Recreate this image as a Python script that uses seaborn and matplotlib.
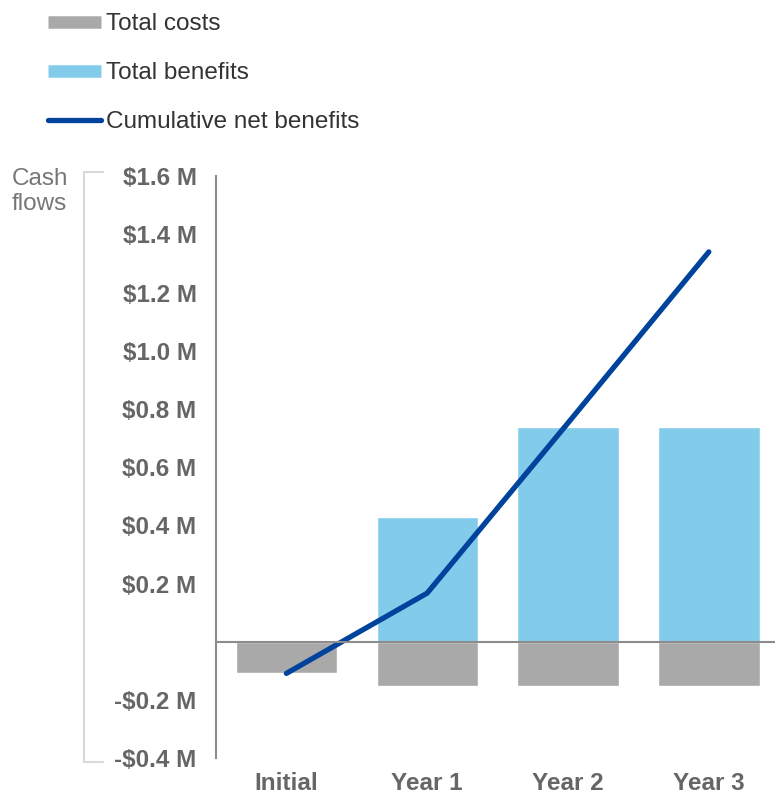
import matplotlib
matplotlib.use("Agg")
import matplotlib.pyplot as plt
from matplotlib.lines import Line2D
import pandas as pd
import seaborn as sns

# values in $M
periods = ["Initial", "Year 1", "Year 2", "Year 3"]
total_costs = [-0.109, -0.153, -0.153, -0.153]
total_benefits = [0.0, 0.429, 0.738, 0.738]
cumulative_net = [-0.109, 0.167, 0.752, 1.34]
ytick_values = [-0.4, -0.2, 0.2, 0.4, 0.6, 0.8, 1.0, 1.2, 1.4, 1.6]
ytick_labels = ["-$0.4 M", "-$0.2 M", "$0.2 M", "$0.4 M", "$0.6 M",
                "$0.8 M", "$1.0 M", "$1.2 M", "$1.4 M", "$1.6 M"]

COST = "#a9a9a9"
BENEFIT = "#83cbeb"
LINE = "#00439c"
TICK = "#666666"
FS = 17.5

sns.set_style("white")
plt.rcParams["font.family"] = ["Liberation Sans", "DejaVu Sans"]

df = pd.DataFrame({
    "period": periods,
    "costs": total_costs,
    "benefits": total_benefits,
    "cumulative": cumulative_net,
})

fig = plt.figure(figsize=(7.75, 7.94), dpi=100)
ax = fig.add_axes([0.2787, 0.0453, 0.7213, 0.7327])

sns.barplot(data=df, x="period", y="benefits", color=BENEFIT, width=0.72,
            saturation=1, ax=ax)
sns.barplot(data=df, x="period", y="costs", color=COST, width=0.72,
            saturation=1, ax=ax)
sns.lineplot(data=df, x="period", y="cumulative", color=LINE, lw=3.8,
             sort=False, ax=ax, solid_capstyle="round")

ax.axhline(0, color="#8c8c8c", lw=1.5, zorder=3)
ax.set_xlim(-0.5, 3.47)
ax.set_ylim(-0.4, 1.6)
ax.set_yticks(ytick_values)
ax.set_yticklabels(ytick_labels)
ax.set_xlabel("")
ax.set_ylabel("")
for s in ["top", "right", "bottom"]:
    ax.spines[s].set_visible(False)
ax.spines["left"].set_color("#8c8c8c")
ax.spines["left"].set_linewidth(1.5)
ax.tick_params(axis="both", length=0, labelsize=FS, labelcolor=TICK)
ax.tick_params(axis="y", pad=14)
ax.tick_params(axis="x", pad=10)
for lbl in ax.get_xticklabels() + ax.get_yticklabels():
    lbl.set_fontweight("bold")

# bracket beside the y labels
bx, btop, bbot, bstub = 84 / 775, 1 - 172 / 794, 1 - 762 / 794, 103 / 775
fig.add_artist(Line2D([bstub, bx, bx, bstub], [btop, btop, bbot, bbot],
                      color="#d9d9d9", lw=1.5, transform=fig.transFigure))

fig.text(12 / 775, 1 - 168 / 794, "Cash\nflows", fontsize=FS, color="#777777",
         ha="left", va="top", linespacing=1.2)

handles = [
    Line2D([], [], color=COST, lw=9, solid_capstyle="butt"),
    Line2D([], [], color=BENEFIT, lw=9, solid_capstyle="butt"),
    Line2D([], [], color=LINE, lw=3.8, solid_capstyle="round"),
]
fig.legend(handles, ["Total costs", "Total benefits", "Cumulative net benefits"],
           loc="upper left", bbox_to_anchor=(48 / 775, 1 - 13 / 794),
           frameon=False, fontsize=FS, labelcolor="#333333",
           handlelength=2.2, handletextpad=0.2, labelspacing=1.12,
           borderaxespad=0, borderpad=0)

fig.savefig("out.png", dpi=100)
